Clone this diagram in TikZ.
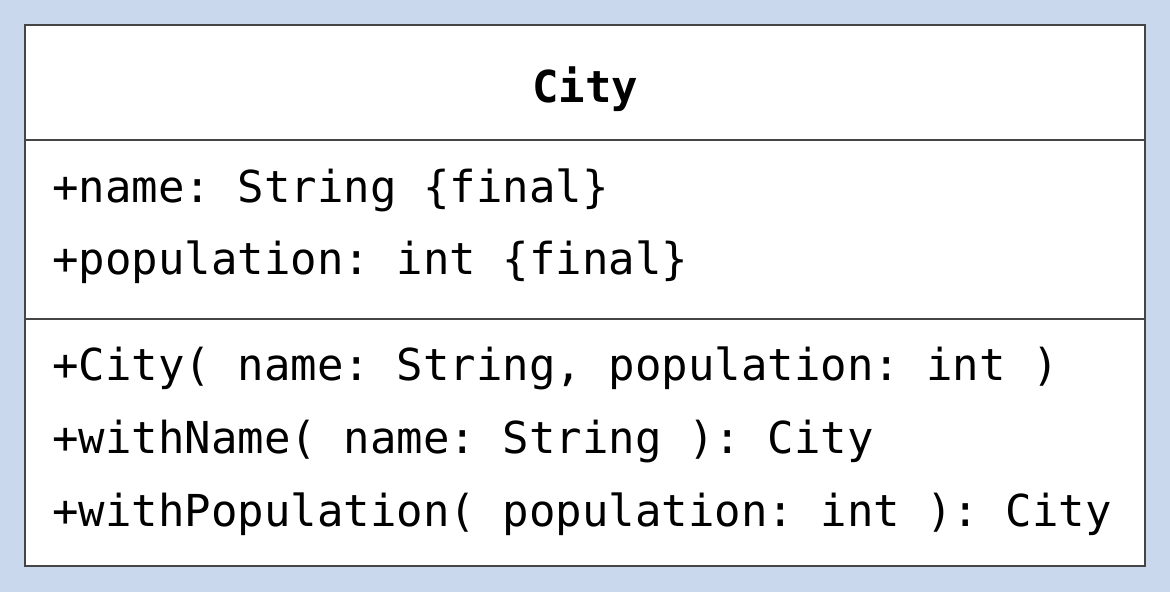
\documentclass[tikz,border=0pt]{standalone}
\usepackage{fontspec}
\setmonofont{DejaVu Sans Mono}
\usepackage{xcolor}
\usepackage{tikz}
\usetikzlibrary{positioning}

\definecolor{bgblue}{HTML}{CAD8EE}
\definecolor{edgegray}{HTML}{454545}

\begin{document}
\begin{tikzpicture}[
    x=0.5pt, y=-0.5pt,
    part/.style   = {draw=edgegray, fill=white, line width=1pt,
                     minimum width=560pt, inner sep=0pt, outer sep=0pt},
    member/.style = {anchor=base west, inner sep=0pt,
                     font=\ttfamily\fontsize{22}{26}\selectfont}
  ]

  % background and bounding box
  \fill[bgblue] (0,0) rectangle (1170,592);
  \useasboundingbox (0,0) rectangle (1170,592);

  % ----------------------------------------------------------------
  % Compartments: name, attributes, operations
  % ----------------------------------------------------------------
  \node[part, anchor=north west, minimum height=57.5pt] (head) at (25,25) {};
  \node[part, below=0pt of head.south west, anchor=north west,
        minimum height=89.5pt] (attrs) {};
  \node[part, below=0pt of attrs.south west, anchor=north west,
        minimum height=123.5pt] (ops) {};

  % class name
  \node[font=\ttfamily\bfseries\fontsize{22}{26}\selectfont, yshift=-3.5pt]
        (title) at (head.center) {City};

  % attributes
  \foreach \idx/\yy/\txt in {
      1/203/{+name: String \{final\}},
      2/275/{+population: int \{final\}}}{
    \node[member] (attr\idx) at (52,\yy) {\txt};
  }

  % operations
  \foreach \idx/\yy/\txt in {
      1/380/{+City( name: String, population: int )},
      2/453/{+withName( name: String ): City},
      3/526/{+withPopulation( population: int ): City}}{
    \node[member] (op\idx) at (52,\yy) {\txt};
  }

\end{tikzpicture}
\end{document}
